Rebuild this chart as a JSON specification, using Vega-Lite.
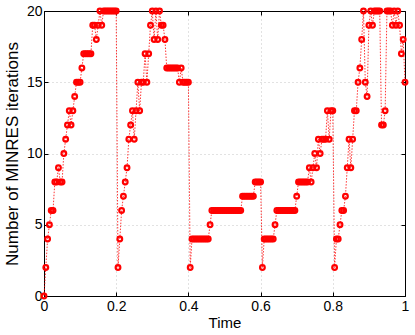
{
  "$schema": "https://vega.github.io/schema/vega-lite/v6.json",
  "autosize": "none",
  "padding": {"left": 44, "top": 11, "right": 10, "bottom": 39},
  "width": 361,
  "height": 285,
  "background": "white",
  "config": {
    "view": {"stroke": "black", "strokeWidth": 1},
    "font": "Liberation Sans",
    "axis": {"labelFont": "Liberation Sans", "titleFont": "Liberation Sans", "labelColor": "black", "titleColor": "black", "domainColor": "black", "tickColor": "black", "titleFontWeight": "normal"}
  },
  "data": {"values": [
    {"t":0.000,"n":0},{"t":0.005,"n":2},{"t":0.010,"n":4},{"t":0.015,"n":5},{"t":0.020,"n":6},{"t":0.025,"n":6},{"t":0.030,"n":8},{"t":0.035,"n":8},{"t":0.040,"n":9},{"t":0.045,"n":8},
    {"t":0.050,"n":8},{"t":0.055,"n":10},{"t":0.060,"n":11},{"t":0.065,"n":12},{"t":0.070,"n":13},{"t":0.075,"n":12},{"t":0.080,"n":13},{"t":0.085,"n":14},{"t":0.090,"n":15},{"t":0.095,"n":15},
    {"t":0.100,"n":15},{"t":0.105,"n":16},{"t":0.110,"n":17},{"t":0.115,"n":17},{"t":0.120,"n":17},{"t":0.125,"n":17},{"t":0.130,"n":17},{"t":0.135,"n":19},{"t":0.140,"n":19},{"t":0.145,"n":18},
    {"t":0.150,"n":19},{"t":0.155,"n":20},{"t":0.160,"n":19},{"t":0.165,"n":20},{"t":0.170,"n":20},{"t":0.175,"n":20},{"t":0.180,"n":20},{"t":0.185,"n":20},{"t":0.190,"n":20},{"t":0.195,"n":20},
    {"t":0.200,"n":20},{"t":0.205,"n":2},{"t":0.210,"n":4},{"t":0.215,"n":6},{"t":0.220,"n":7},{"t":0.225,"n":8},{"t":0.230,"n":9},{"t":0.235,"n":11},{"t":0.240,"n":12},{"t":0.245,"n":13},
    {"t":0.250,"n":11},{"t":0.255,"n":13},{"t":0.260,"n":15},{"t":0.265,"n":13},{"t":0.270,"n":15},{"t":0.275,"n":15},{"t":0.280,"n":17},{"t":0.285,"n":15},{"t":0.290,"n":17},{"t":0.295,"n":19},
    {"t":0.300,"n":20},{"t":0.305,"n":18},{"t":0.310,"n":20},{"t":0.315,"n":18},{"t":0.320,"n":20},{"t":0.325,"n":19},{"t":0.330,"n":19},{"t":0.335,"n":18},{"t":0.340,"n":16},{"t":0.345,"n":16},
    {"t":0.350,"n":16},{"t":0.355,"n":16},{"t":0.360,"n":16},{"t":0.365,"n":16},{"t":0.370,"n":16},{"t":0.375,"n":15},{"t":0.380,"n":16},{"t":0.385,"n":15},{"t":0.390,"n":15},{"t":0.395,"n":15},
    {"t":0.400,"n":15},{"t":0.405,"n":2},{"t":0.410,"n":4},{"t":0.415,"n":4},{"t":0.420,"n":4},{"t":0.425,"n":4},{"t":0.430,"n":4},{"t":0.435,"n":4},{"t":0.440,"n":4},{"t":0.445,"n":4},
    {"t":0.450,"n":4},{"t":0.455,"n":4},{"t":0.460,"n":5},{"t":0.465,"n":6},{"t":0.470,"n":6},{"t":0.475,"n":6},{"t":0.480,"n":6},{"t":0.485,"n":6},{"t":0.490,"n":6},{"t":0.495,"n":6},
    {"t":0.500,"n":6},{"t":0.505,"n":6},{"t":0.510,"n":6},{"t":0.515,"n":6},{"t":0.520,"n":6},{"t":0.525,"n":6},{"t":0.530,"n":6},{"t":0.535,"n":6},{"t":0.540,"n":6},{"t":0.545,"n":6},
    {"t":0.550,"n":7},{"t":0.555,"n":7},{"t":0.560,"n":7},{"t":0.565,"n":7},{"t":0.570,"n":7},{"t":0.575,"n":7},{"t":0.580,"n":7},{"t":0.585,"n":8},{"t":0.590,"n":8},{"t":0.595,"n":8},
    {"t":0.600,"n":8},{"t":0.605,"n":2},{"t":0.610,"n":4},{"t":0.615,"n":4},{"t":0.620,"n":4},{"t":0.625,"n":4},{"t":0.630,"n":4},{"t":0.635,"n":4},{"t":0.640,"n":5},{"t":0.645,"n":6},
    {"t":0.650,"n":6},{"t":0.655,"n":6},{"t":0.660,"n":6},{"t":0.665,"n":6},{"t":0.670,"n":6},{"t":0.675,"n":6},{"t":0.680,"n":6},{"t":0.685,"n":6},{"t":0.690,"n":6},{"t":0.695,"n":6},
    {"t":0.700,"n":7},{"t":0.705,"n":8},{"t":0.710,"n":8},{"t":0.715,"n":8},{"t":0.720,"n":8},{"t":0.725,"n":8},{"t":0.730,"n":8},{"t":0.735,"n":9},{"t":0.740,"n":8},{"t":0.745,"n":9},
    {"t":0.750,"n":10},{"t":0.755,"n":9},{"t":0.760,"n":11},{"t":0.765,"n":10},{"t":0.770,"n":11},{"t":0.775,"n":11},{"t":0.780,"n":11},{"t":0.785,"n":13},{"t":0.790,"n":11},{"t":0.795,"n":13},
    {"t":0.800,"n":13},{"t":0.805,"n":2},{"t":0.810,"n":4},{"t":0.815,"n":4},{"t":0.820,"n":5},{"t":0.825,"n":6},{"t":0.830,"n":6},{"t":0.835,"n":7},{"t":0.840,"n":9},{"t":0.845,"n":11},
    {"t":0.850,"n":9},{"t":0.855,"n":11},{"t":0.860,"n":13},{"t":0.865,"n":13},{"t":0.870,"n":15},{"t":0.875,"n":16},{"t":0.880,"n":18},{"t":0.885,"n":20},{"t":0.890,"n":15},{"t":0.895,"n":14},
    {"t":0.900,"n":19},{"t":0.905,"n":20},{"t":0.910,"n":19},{"t":0.915,"n":20},{"t":0.920,"n":20},{"t":0.925,"n":20},{"t":0.930,"n":20},{"t":0.935,"n":12},{"t":0.940,"n":12},{"t":0.945,"n":13},
    {"t":0.950,"n":20},{"t":0.955,"n":20},{"t":0.960,"n":20},{"t":0.965,"n":19},{"t":0.970,"n":20},{"t":0.975,"n":19},{"t":0.980,"n":20},{"t":0.985,"n":19},{"t":0.990,"n":17},{"t":0.995,"n":18},
    {"t":1.000,"n":15}
  ]},
  "resolve": {"axis": {"x": "independent", "y": "independent"}},
  "layer": [
    {
      "mark": {"type": "line", "color": "#ff0000", "strokeWidth": 0.8, "strokeDash": [1.5, 1.5], "clip": false},
      "encoding": {
        "x": {"field": "t", "type": "quantitative", "scale": {"domain": [0, 1], "nice": false},
          "axis": {"orient": "bottom", "values": [0, 0.2, 0.4, 0.6, 0.8, 1], "format": "~g", "title": "Time", "titleFontSize": 15, "titlePadding": 2, "labelFontSize": 14, "labelPadding": 7, "tickSize": -4, "grid": true, "gridColor": "#c4c4c4", "gridDash": [1, 3], "gridWidth": 1, "labelFlush": false}},
        "y": {"field": "n", "type": "quantitative", "scale": {"domain": [0, 20], "nice": false},
          "axis": {"orient": "left", "values": [0, 5, 10, 15, 20], "title": "Number of MINRES iterations", "titleFontSize": 17, "titlePadding": 5, "labelFontSize": 14, "labelPadding": 6, "tickSize": -4, "grid": true, "gridColor": "#c4c4c4", "gridDash": [1, 3], "gridWidth": 1, "labelFlush": false}}
      }
    },
    {
      "mark": {"type": "point", "shape": "circle", "filled": false, "color": "#ff0000", "size": 22, "strokeWidth": 2.2, "opacity": 1, "clip": false},
      "encoding": {
        "x": {"field": "t", "type": "quantitative", "scale": {"domain": [0, 1], "nice": false},
          "axis": {"orient": "top", "values": [0, 0.2, 0.4, 0.6, 0.8, 1], "labels": false, "title": null, "tickSize": -4, "grid": false}},
        "y": {"field": "n", "type": "quantitative", "scale": {"domain": [0, 20], "nice": false},
          "axis": {"orient": "right", "values": [0, 5, 10, 15, 20], "labels": false, "title": null, "tickSize": -4, "grid": false}}
      }
    }
  ]
}
